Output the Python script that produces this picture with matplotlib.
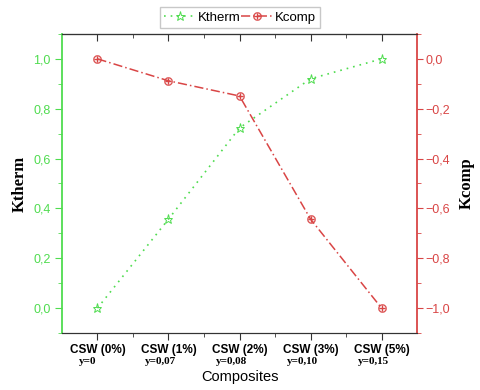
import matplotlib
matplotlib.use("Agg")
import matplotlib.pyplot as plt
from matplotlib.ticker import FixedLocator, MultipleLocator, FuncFormatter
from matplotlib.lines import Line2D

categories = ["CSW (0%)", "CSW (1%)", "CSW (2%)", "CSW (3%)", "CSW (5%)"]
y_labels = ["y=0", "y=0,07", "y=0,08", "y=0,10", "y=0,15"]
ktherm = [0.0, 0.357, 0.723, 0.92, 1.0]
kcomp = [0.0, -0.088, -0.149, -0.643, -1.0]

GREEN = "#4fdc4f"
RED = "#d94545"
SANS = "Liberation Sans"
SERIF = "Liberation Serif"

fig = plt.figure(figsize=(4.8, 3.9), dpi=100)
ax = fig.add_axes([0.129, 0.146, 0.740, 0.767])
ax2 = ax.twinx()

x = list(range(len(categories)))
ax.plot(x, ktherm, linestyle=(0, (1, 3)), color=GREEN, lw=1.2,
        marker="*", markersize=6.5, markerfacecolor="none", markeredgecolor=GREEN,
        markeredgewidth=0.7, label="Ktherm")
ax2.plot(x, kcomp, linestyle=(0, (6, 2, 1, 2)), color=RED, lw=1.1,
         marker=r"$\oplus$", markersize=6, markeredgewidth=0.2, label="Kcomp")

ax.set_xlim(-0.5, 4.5)
ax.set_ylim(-0.1, 1.1)
ax2.set_ylim(-1.1, 0.1)

fmt = FuncFormatter(lambda v, p: ("%.1f" % v).replace(".", ",").replace("-", "\u2212"))
for a in (ax, ax2):
    a.yaxis.set_major_locator(MultipleLocator(0.2))
    a.yaxis.set_minor_locator(MultipleLocator(0.1))
    a.yaxis.set_major_formatter(fmt)

ax.set_xticks(x)
ax.set_xticklabels(categories, fontweight="bold", fontsize=8.5, family=SANS)
ax.xaxis.set_minor_locator(FixedLocator([i + 0.5 for i in x[:-1]]))
ax.tick_params(axis="x", which="both", direction="out", top=False, pad=3, color="#333333")
ax.tick_params(axis="x", which="major", length=5)
ax.tick_params(axis="x", which="minor", length=3)

sec = ax.secondary_xaxis("top")
sec.set_xticks(x)
sec.xaxis.set_minor_locator(FixedLocator([i + 0.5 for i in x[:-1]]))
sec.tick_params(axis="x", which="both", direction="in", labeltop=False, color="#333333")
sec.tick_params(axis="x", which="major", length=5)
sec.tick_params(axis="x", which="minor", length=3)
sec.spines["top"].set_color("#333333")

ax.tick_params(axis="y", which="both", colors=GREEN, labelsize=9, direction="out", pad=3)
ax.tick_params(axis="y", which="major", length=5)
ax.tick_params(axis="y", which="minor", length=3)
ax2.tick_params(axis="y", which="both", colors=RED, labelsize=9, direction="out", pad=2)
ax2.tick_params(axis="y", which="major", length=4)
ax2.tick_params(axis="y", which="minor", length=3)
for lab in ax.get_yticklabels() + ax2.get_yticklabels():
    lab.set_family(SANS)

ax.spines["left"].set_color(GREEN)
ax.spines["left"].set_linewidth(1.3)
ax2.spines["left"].set_visible(False)
ax2.spines["right"].set_color(RED)
ax2.spines["right"].set_linewidth(1.3)
ax.spines["right"].set_visible(False)
for sp in ("top", "bottom"):
    ax.spines[sp].set_color("#333333")
    ax2.spines[sp].set_color("#333333")

offsets = [-0.26, -0.33, -0.33, -0.33, -0.33]
for i, lab in enumerate(y_labels):
    ax.text(i + offsets[i], -0.198, lab, transform=ax.transData, fontsize=8,
            fontweight="bold", family=SERIF, ha="left", va="top", clip_on=False)

ax.set_xlabel("Composites", fontsize=10.5, family=SANS, labelpad=10)
ax.set_ylabel("Ktherm", fontsize=12, fontweight="bold", family=SERIF, labelpad=4)
ax2.set_ylabel("Kcomp", fontsize=12, fontweight="bold", family=SERIF, labelpad=6)

h1 = Line2D([], [], linestyle=(0, (1, 3)), color=GREEN, lw=1.2, marker="*",
            markersize=6.5, markerfacecolor="none", markeredgecolor=GREEN, markeredgewidth=0.7)
h2 = Line2D([], [], linestyle=(0, (6, 2, 1, 2)), color=RED, lw=1.1,
            marker=r"$\oplus$", markersize=6, markeredgewidth=0.2)
fig.legend([h1, h2], ["Ktherm", "Kcomp"], loc="center", bbox_to_anchor=(0.5, 0.955),
           ncol=2, frameon=True, fancybox=False, edgecolor="#bbbbbb",
           handlelength=2.4, handletextpad=0.2, columnspacing=0.0, borderpad=0.3,
           prop={"family": SANS, "size": 9.5})

fig.savefig("out.png", dpi=100)
